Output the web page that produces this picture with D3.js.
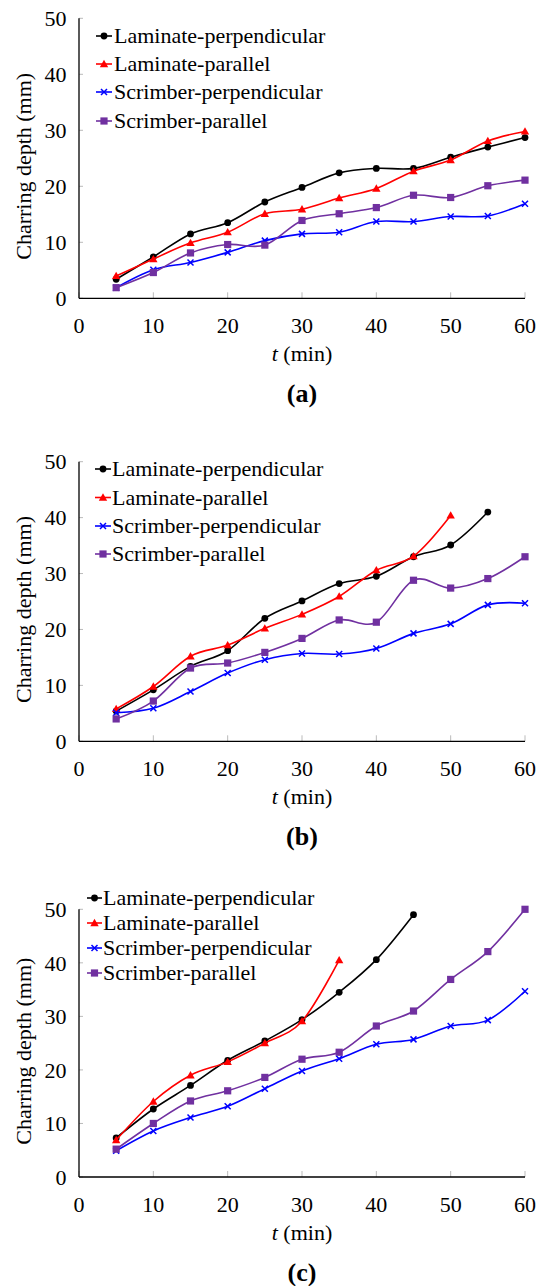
<!DOCTYPE html>
<html><head><meta charset="utf-8">
<script src="https://cdn.jsdelivr.net/npm/d3@7"></script>
</head><body style="margin:0;background:#fff">
<div id="wrap" style="width:539px;height:1286px;overflow:hidden"></div>
<script>
// ---------- data ----------
const times = [5,10,15,20,25,30,35,40,45,50,55,60];
const xTicks = [0,10,20,30,40,50,60];
const yTicks = [0,10,20,30,40,50];
const seriesNames = ["Laminate-perpendicular","Laminate-parallel","Scrimber-perpendicular","Scrimber-parallel"];
const panelLabels = ["(a)","(b)","(c)"];
const xTitle = "(min)";
const yTitle = "Charring depth (mm)";

// panel (a)
const aLamPerp = [3.4,7.4,11.5,13.5,17.2,19.8,22.4,23.2,23.2,25.2,27.0,28.7];
const aLamPar  = [4.0,7.0,9.9,11.8,15.1,15.9,17.9,19.6,22.7,24.7,28.1,29.8];
const aScrPerp = [1.9,5.1,6.4,8.2,10.3,11.5,11.8,13.7,13.7,14.6,14.7,16.9];
const aScrPar  = [1.9,4.6,8.1,9.6,9.5,13.9,15.1,16.2,18.4,18.0,20.1,21.1];
// panel (b)
const bLamPerp = [5.4,9.2,13.4,16.2,22.0,25.1,28.2,29.5,33.0,35.1,41.0];
const bLamPar  = [5.8,9.8,15.2,17.2,20.2,22.7,25.9,30.6,33.1,40.4];
const bScrPerp = [5.1,5.9,8.9,12.2,14.6,15.7,15.6,16.6,19.3,21.0,24.4,24.7];
const bScrPar  = [4.0,7.2,13.1,14.0,15.9,18.4,21.7,21.3,28.8,27.4,29.1,33.0];
// panel (c)
const cLamPerp = [7.3,12.7,17.1,21.8,25.4,29.4,34.5,40.6,49.0];
const cLamPar  = [6.9,14.1,19.0,21.5,25.0,29.1,40.5];
const cScrPerp = [4.9,8.6,11.1,13.2,16.5,19.8,22.1,24.8,25.7,28.2,29.3,34.7];
const cScrPar  = [5.2,10.0,14.2,16.1,18.6,22.0,23.3,28.2,31.0,36.9,42.1,50.0];

const panelData = [
  [aLamPerp,aLamPar,aScrPerp,aScrPar],
  [bLamPerp,bLamPar,bScrPerp,bScrPar],
  [cLamPerp,cLamPar,cScrPerp,cScrPar]
];

// ---------- styling / layout ----------
const colors = ["#000000","#ff0000","#0000ff","#7030a0"];
const markers = ["circle","triangle","cross","square"];
const layout = [
  {y0:298.3, y50:18.3, leg:[36,64,92,121], lx:[96,112], tx:114},
  {y0:741.3, y50:461.7, leg:[469,497.5,526,554], lx:[95,111], tx:112},
  {y0:1177, y50:909.3, leg:[898,923,948,973], lx:[87,102], tx:103}
];
const xLeft = 79, xRight = 525;

const svg = d3.select("#wrap").append("svg").attr("width",539).attr("height",1286);
const x = d3.scaleLinear().domain([0,60]).range([xLeft,xRight]);

function txt(g){
  return g.append("text").style("font-family","Liberation Serif").attr("fill","#000");
}

function drawMarker(g, type, cx, cy, color){
  if(type==="circle"){
    g.append("circle").attr("cx",cx).attr("cy",cy).attr("r",3.4).attr("fill",color);
  } else if(type==="triangle"){
    const s=4.2;
    g.append("path").attr("d",`M${cx},${cy-s}L${cx+s},${cy+s*0.75}L${cx-s},${cy+s*0.75}Z`).attr("fill",color);
  } else if(type==="cross"){
    const s=3;
    g.append("path").attr("d",`M${cx-s},${cy-s}L${cx+s},${cy+s}M${cx-s},${cy+s}L${cx+s},${cy-s}`)
      .attr("stroke",color).attr("stroke-width",1.5).attr("fill","none");
  } else {
    const s=3.6;
    g.append("rect").attr("x",cx-s).attr("y",cy-s).attr("width",2*s).attr("height",2*s).attr("fill",color);
  }
}

layout.forEach((L,pi)=>{
  const y = d3.scaleLinear().domain([0,50]).range([L.y0,L.y50]);

  xTicks.forEach(t=>{
    svg.append("line").attr("x1",x(t)).attr("x2",x(t)).attr("y1",L.y0).attr("y2",L.y0-6)
      .attr("stroke","#bbb").attr("stroke-width",1);
    txt(svg).attr("x",x(t)).attr("y",L.y0+27).attr("dy","0.35em")
      .attr("text-anchor","middle").attr("font-size",22).text(t);
  });
  yTicks.forEach(t=>{
    svg.append("line").attr("x1",xLeft).attr("x2",xLeft+4).attr("y1",y(t)).attr("y2",y(t))
      .attr("stroke","#bbb").attr("stroke-width",1);
    txt(svg).attr("x",66.5).attr("y",y(t)).attr("dy","0.35em")
      .attr("text-anchor","end").attr("font-size",22).text(t);
  });
  svg.append("line").attr("x1",xLeft).attr("x2",xLeft).attr("y1",L.y50).attr("y2",L.y0)
    .attr("stroke","#000").attr("stroke-width",1.3);
  svg.append("line").attr("x1",xLeft).attr("x2",xRight).attr("y1",L.y0).attr("y2",L.y0)
    .attr("stroke","#000").attr("stroke-width",1.3);

  const xt = txt(svg).attr("x",(xLeft+xRight)/2).attr("y",L.y0+55).attr("dy","0.35em")
    .attr("text-anchor","middle").attr("font-size",22);
  xt.append("tspan").style("font-style","italic").text("t");
  xt.append("tspan").text(" "+xTitle);
  const yc = (L.y0+L.y50)/2 + 8;
  txt(svg).attr("transform",`translate(23,${yc}) rotate(-90)`).attr("dy","0.35em")
    .attr("text-anchor","middle").attr("font-size",22).text(yTitle);
  txt(svg).attr("x",(xLeft+xRight)/2).attr("y",L.y0+95).attr("dy","0.35em")
    .attr("text-anchor","middle").attr("font-size",26).style("font-weight","bold").text(panelLabels[pi]);

  const line = d3.line().x(d=>x(d[0])).y(d=>y(d[1])).curve(d3.curveCardinal.tension(0));
  panelData[pi].forEach((vals,si)=>{
    const pts = vals.map((v,i)=>[times[i],v]);
    svg.append("path").datum(pts).attr("d",line).attr("fill","none")
      .attr("stroke",colors[si]).attr("stroke-width",1.6);
    pts.forEach(p=>drawMarker(svg,markers[si],x(p[0]),y(p[1]),colors[si]));
  });

  seriesNames.forEach((name,si)=>{
    const ly = L.leg[si];
    svg.append("line").attr("x1",L.lx[0]).attr("x2",L.lx[1]).attr("y1",ly).attr("y2",ly)
      .attr("stroke",colors[si]).attr("stroke-width",1.6);
    drawMarker(svg,markers[si],(L.lx[0]+L.lx[1])/2,ly,colors[si]);
    txt(svg).attr("x",L.tx).attr("y",ly).attr("dy","0.33em")
      .attr("font-size",22).text(name);
  });
});
</script>
</body></html>
